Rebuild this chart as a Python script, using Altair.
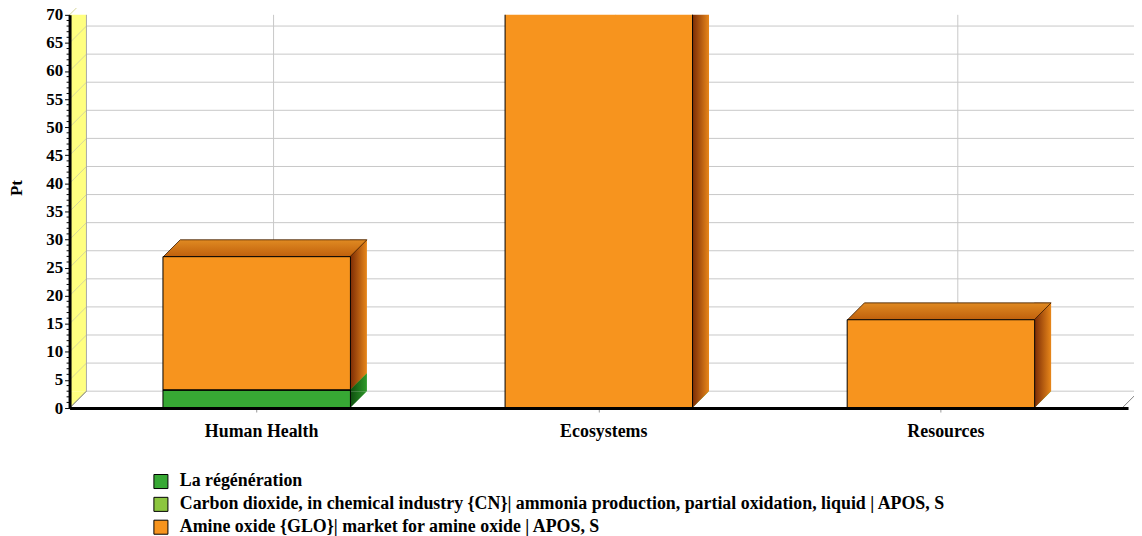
import altair as alt
import pandas as pd

categories = ["Human Health", "Ecosystems", "Resources"]
series_names = [
    "La régénération",
    "Carbon dioxide, in chemical industry {CN}| ammonia production, partial oxidation, liquid | APOS, S",
    "Amine oxide {GLO}| market for amine oxide | APOS, S",
]
regeneration = [3.2, 0.0, 0.0]
carbon_dioxide = [0.05, 0.02, 0.02]
amine_oxide = [23.7, 95.0, 15.7]
y_major = list(range(0, 75, 5))
y_minor = [v for v in range(0, 71) if v % 5 != 0]

front_colors = ["#37a834", "#8cc63f", "#f7941e"]
side_dark = ["#0e4d0e", "#4d7a1c", "#7a2a05"]
side_light = ["#2e9a2a", "#86bd3a", "#e8871a"]

W, H, D, HALF = 1066, 396, 17, 94
FONT = "Liberation Serif"
GRID = "#c8c8c8"

rows = []
for i, cat in enumerate(categories):
    for k, vals in enumerate([regeneration, carbon_dioxide, amine_oxide]):
        rows.append({"category": cat, "series": series_names[k], "order": k, "value": vals[i]})
df = pd.DataFrame(rows)
ticks_df = pd.DataFrame({"v": y_major})
minor_df = pd.DataFrame({"v": y_minor})
zero_df = pd.DataFrame({"v": [0]})
cat_df = pd.DataFrame({"category": categories, "v": [0] * len(categories)})


def hgrad(a, b):
    return {"gradient": "linear", "x1": 0, "y1": 0, "x2": 1, "y2": 0,
            "stops": [{"offset": 0, "color": a}, {"offset": 1, "color": b}]}


def vgrad(a, b):
    return {"gradient": "linear", "x1": 0, "y1": 0, "x2": 0, "y2": 1,
            "stops": [{"offset": 0, "color": a}, {"offset": 1, "color": b}]}


x_axis = alt.Axis(title=None, labelFont=FONT, labelFontSize=18, labelFontWeight="bold",
                  labelColor="black", labelAngle=0, labelPadding=11, labelOffset=5,
                  domainColor="black", domainWidth=3, tickColor="#999999", tickSize=4,
                  grid=False, zindex=1)
y_axis = alt.Axis(title="Pt", values=y_major, titleFont=FONT, titleFontSize=17,
                  titleFontWeight="bold", titleColor="black", titleX=-44, titleY=174,
                  labelFont=FONT, labelFontSize=17, labelFontWeight="bold", labelColor="black",
                  labelPadding=2, domainColor="black", domainWidth=3, tickColor="black",
                  tickSize=5, grid=False, zindex=1)
x_scale = alt.Scale(domain=categories, paddingInner=0.452, paddingOuter=0.273)
y_scale = alt.Scale(domain=[0, 70], nice=False, zero=True)


def X():
    return alt.X("category:N", scale=x_scale, axis=x_axis, sort=categories)


def Y(field):
    return alt.Y(field, scale=y_scale, axis=y_axis)


base = alt.Chart(df).transform_stack(
    stack="value", groupby=["category"], as_=["y0", "y1"],
    sort=[alt.SortField(field="order", order="ascending")])

# walls and floor
wall = alt.Chart(zero_df).mark_rect(color="#ffff80", yOffset=-D).encode(
    x=alt.value(0), x2=alt.value(D), y=Y("v:Q"), y2=alt.value(0))
wall_tri = alt.Chart(zero_df).mark_point(
    shape=f"M0,0 L{D},-{D} L0,-{D} Z", size=4, filled=True, color="#ffff80",
    opacity=1, strokeWidth=0).encode(x=alt.value(0), y=Y("v:Q"))
grid_h = alt.Chart(ticks_df).mark_rule(color=GRID, yOffset=-D).encode(
    x=alt.value(D), x2=alt.value(W + D), y=Y("v:Q"))
grid_v = alt.Chart(cat_df).mark_rule(color=GRID, xOffset=D, yOffset=-D).encode(
    x=X(), y=Y("v:Q"), y2=alt.value(0))
wall_diag = alt.Chart(ticks_df).mark_point(
    shape=f"M0,0 L{D},-{D}", size=4, filled=False, color="#d6d69a", opacity=1,
    strokeWidth=1).encode(x=alt.value(0), y=Y("v:Q"))
wall_edge = alt.Chart(zero_df).mark_rule(color="#a8a8a8", yOffset=-D).encode(
    x=alt.value(D), y=Y("v:Q"), y2=alt.value(0))
floor_left = alt.Chart(zero_df).mark_point(
    shape=f"M0,0 L{D},-{D}", size=4, filled=False, color="#808080", opacity=1,
    strokeWidth=1).encode(x=alt.value(0), y=Y("v:Q"))
floor_right = alt.Chart(zero_df).mark_point(
    shape=f"M0,0 L{D},-{D}", size=4, filled=False, color="#808080", opacity=1,
    strokeWidth=1).encode(x=alt.value(W - 6), y=Y("v:Q"))
minor = alt.Chart(minor_df).mark_rule(color="black").encode(
    x=alt.value(-3), x2=alt.value(0), y=Y("v:Q"))

# 3D side faces, bottom to top
sides = []
for k in range(len(series_names)):
    sides.append(base.transform_filter(
        (alt.datum.order == k) & (alt.datum.value > 0)).mark_bar(
        width=D, xOffset=HALF + D / 2, yOffset=-D, y2Offset=-D,
        color=hgrad(side_dark[k], side_light[k]), clip=True).encode(
        x=X(), y=Y("y1:Q"), y2="y0:Q"))
    sides.append(base.transform_filter(
        (alt.datum.order == k) & (alt.datum.value > 0)).mark_point(
        shape=f"M{HALF},0 L{HALF + D},-{D} L{HALF},-{D} Z", size=4, filled=True,
        opacity=1, strokeWidth=0, color=hgrad(side_dark[k], side_light[k]),
        clip=True).encode(x=X(), y=Y("y0:Q")))

top_face = base.transform_filter(alt.datum.order == 2).mark_point(
    shape=f"M-{HALF},0 L{HALF},0 L{HALF + D},-{D} L-{HALF - D},-{D} Z", size=4,
    filled=True, opacity=1, color=vgrad("#e08a22", "#c0600c"), stroke="#3a1a00",
    strokeWidth=0.8, clip=True).encode(x=X(), y=Y("y1:Q"))

front = base.transform_filter(alt.datum.value > 0).mark_bar(
    stroke="black", strokeWidth=1, clip=True, opacity=1).encode(
    x=X(), y=Y("y1:Q"), y2="y0:Q",
    color=alt.Color("series:N", scale=alt.Scale(domain=series_names, range=front_colors),
                    legend=alt.Legend(title=None, orient="none", legendX=83, legendY=461,
                                      direction="vertical", symbolType="square",
                                      symbolSize=200, symbolStrokeColor="black",
                                      symbolStrokeWidth=1, labelFont=FONT,
                                      labelFontSize=18, labelFontWeight="bold",
                                      labelColor="black", labelLimit=0, labelOffset=10,
                                      rowPadding=3, padding=0)))

chart = alt.layer(
    wall, wall_tri, grid_h, grid_v, wall_diag, wall_edge, floor_left, floor_right,
    *sides, top_face, front, minor
).properties(
    width=W, height=H,
    padding={"left": 62, "top": 5, "right": 6, "bottom": 131},
    autosize=alt.AutoSizeParams(type="none"),
    background="white",
).configure_view(stroke="transparent")

chart.save("out.html", embed_options={"renderer": "svg", "actions": False})
